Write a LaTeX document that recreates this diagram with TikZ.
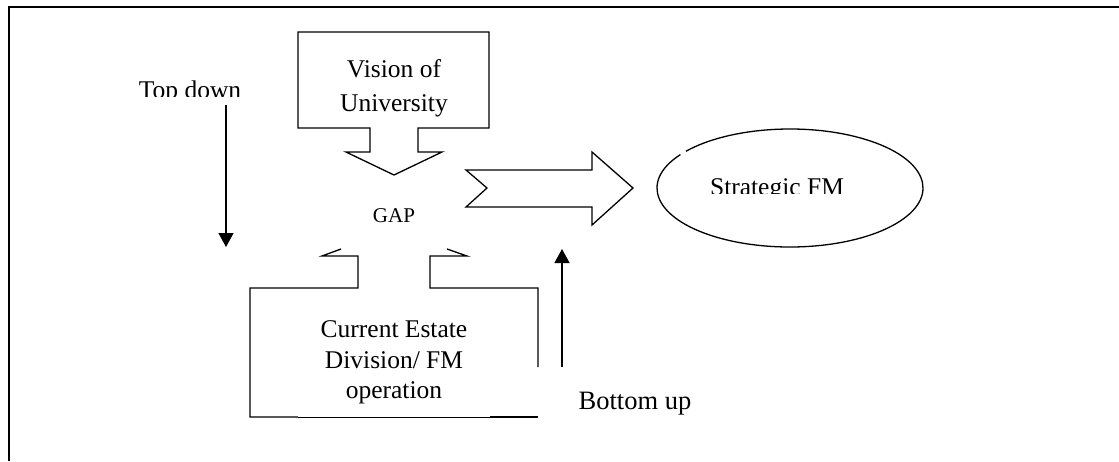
\documentclass[tikz,border=0pt]{standalone}
\usepackage{fontspec}
\setmainfont{Liberation Serif}
\usetikzlibrary{arrows.meta}
\tikzset{
  shapeline/.style={line width=1.3pt, line join=miter},
  frameline/.style={line width=1.5pt},
  lbl/.style={inner sep=0pt, anchor=base, font=\fontsize{25.5}{30}\selectfont},
  gaplbl/.style={inner sep=0pt, anchor=base, font=\fontsize{21}{25}\selectfont},
  flowarrow/.style={line width=1.3pt, -{Triangle[width=15pt,length=14pt]}}
}
\begin{document}
\begin{tikzpicture}[x=1pt,y=-1pt]
\useasboundingbox (0,0) rectangle (1119,461);
% frame
\draw[frameline] (9,461) -- (9,7) -- (1119,7);

% Vision of University (down callout)
\draw[shapeline] (298,32) -- (489,32) -- (489,128) -- (418,128) -- (418,152) -- (442,152)
  -- (394,175) -- (346,152) -- (370,152) -- (370,128) -- (298,128) -- cycle;
\node[lbl] (vis1) at (394,77) {Vision of};
\node[lbl] (vis2) at (394,111) {University};

% GAP
\node[gaplbl] (gap) at (394,222) {GAP};

% Current Estate (up callout, partly hidden)
\draw[shapeline] (538,367) -- (538,288) -- (430,288) -- (430,256) -- (467,256) -- (447,249);
\draw[shapeline] (341,249) -- (322,256) -- (358,256) -- (358,288) -- (250,288) -- (250,417) -- (298,417);
\draw[line width=0.8pt] (298,417) -- (490,417);
\draw[shapeline] (490,417) -- (538,417);
\node[lbl] (cur1) at (394,337) {Current Estate};
\node[lbl] (cur2) at (394,368) {Division/ FM};
\node[lbl] (cur3) at (394,398) {operation};

% notched right arrow
\draw[shapeline] (466,170) -- (592,170) -- (592,152) -- (633,188) -- (592,225) -- (592,207)
  -- (466,207) -- (487,188) -- cycle;

% Strategic FM ellipse (with a small gap)
\coordinate (sfmc) at (790,188);
\draw[shapeline] ([shift={(145.5:133pt and 59pt)}]sfmc) arc[start angle=145.5, end angle=501.5, x radius=133pt, y radius=59pt];
\begin{scope}
  \clip (690,150) rectangle (870,193);
  \node[lbl] (sfm) at (777,195) {Strategic FM};
\end{scope}

% Top down
\begin{scope}
  \clip (110,60) rectangle (280,96);
  \node[lbl] (td) at (190,98) {Top down};
\end{scope}
\coordinate (tdS) at (226,105);
\coordinate (tdE) at (226,247);
\draw[flowarrow] (tdS) -- (tdE);

% Bottom up
\node[lbl, font=\fontsize{26.5}{30}\selectfont] (bu) at (635,409) {Bottom up};
\coordinate (buS) at (562,367);
\coordinate (buE) at (562,249);
\draw[flowarrow] (buS) -- (buE);
\end{tikzpicture}
\end{document}
